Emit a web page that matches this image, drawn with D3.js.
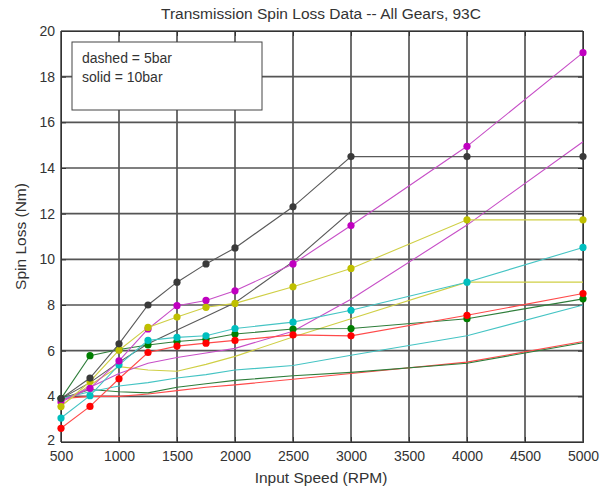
<!DOCTYPE html>
<html><head><meta charset="utf-8">
<script src="https://cdn.jsdelivr.net/npm/d3@7"></script>
<style>
html,body{margin:0;padding:0;background:#fff;}
svg text{font-family:"Liberation Sans",Arial,sans-serif;fill:#333;}
</style></head>
<body><svg id="chart" width="607" height="489"></svg>
<script>
const rpm = [500,750,1000,1250,1500,1750,2000,2500,3000,4000,5000];
const xTicks = [500,1000,1500,2000,2500,3000,3500,4000,4500,5000];
const yTicks = [2,4,6,8,10,12,14,16,18,20];

// 10 bar (solid, with markers)
const gray10    = [3.9,4.8,6.3,8.0,9.0,9.8,10.5,12.3,14.5,14.5,14.5];
const magenta10 = [3.75,4.35,5.55,6.95,7.97,8.2,8.62,9.8,11.48,14.95,19.05];
const yellow10  = [3.55,4.65,6.02,7.02,7.47,7.9,8.07,8.8,9.6,11.73,11.73];
const cyan10    = [3.05,4.03,5.38,6.45,6.58,6.65,6.97,7.25,7.77,9.0,10.52];
const green10   = [3.9,5.78,6.05,6.25,6.4,6.5,6.73,6.95,6.97,7.4,8.27];
const red10     = [2.6,3.56,4.77,5.92,6.2,6.33,6.45,6.69,6.65,7.55,8.5];

// 5 bar (dashed, no markers)
const gray5    = [3.9,4.6,5.5,6.3,6.9,7.5,8.1,9.9,12.1,12.1,12.1];
const magenta5 = [3.8,4.4,5.0,5.45,5.7,5.9,6.1,6.85,8.25,11.5,15.15];
const yellow5  = [3.6,4.5,5.3,5.15,5.1,5.4,5.75,6.6,7.4,9.0,9.0];
const cyan5    = [3.9,4.2,4.45,4.6,4.8,4.95,5.15,5.35,5.8,6.65,8.0];
const green5   = [3.9,4.3,4.2,4.15,4.4,4.55,4.7,4.9,5.05,5.45,6.35];
const red5     = [3.9,4.0,4.0,4.1,4.25,4.4,4.5,4.75,5.0,5.5,6.4];

const colors = {
  gray:   {line:"#5a5a5a", mark:"#3a3a3a"},
  magenta:{line:"#c74fc7", mark:"#c000c0"},
  yellow: {line:"#cfcf45", mark:"#bfbf00"},
  cyan:   {line:"#45c4c4", mark:"#00bfbf"},
  green:  {line:"#2e7d3a", mark:"#007f00"},
  red:    {line:"#ff4a4a", mark:"#ff0000"}
};

const dashedSeries = [
  {c:"red",v:red5},{c:"green",v:green5},{c:"cyan",v:cyan5},
  {c:"yellow",v:yellow5},{c:"magenta",v:magenta5},{c:"gray",v:gray5}
];
const solidSeries = [
  {c:"green",v:green10},{c:"red",v:red10},{c:"cyan",v:cyan10},
  {c:"magenta",v:magenta10},{c:"yellow",v:yellow10},{c:"gray",v:gray10}
];

const svg = d3.select("#chart");
const L=61, R=583, T=31, B=442;
const x = d3.scaleLinear().domain([500,5000]).range([L,R]);
const y = d3.scaleLinear().domain([2,20]).range([B,T]);

// grid
const g = svg.append("g");
g.selectAll(".vg").data(xTicks).enter().append("line")
  .attr("x1",d=>x(d)).attr("x2",d=>x(d)).attr("y1",T).attr("y2",B)
  .attr("stroke","#555").attr("stroke-width",1.7);
g.selectAll(".hg").data(yTicks).enter().append("line")
  .attr("y1",d=>y(d)).attr("y2",d=>y(d)).attr("x1",L).attr("x2",R)
  .attr("stroke","#555").attr("stroke-width",1.7);

// axes (ticks inside)
svg.append("g").attr("transform",`translate(0,${B})`)
  .call(d3.axisBottom(x).tickValues(xTicks).tickSize(-5).tickPadding(9).tickFormat(d3.format("d")))
  .call(a=>{a.select(".domain").attr("stroke","#333");a.selectAll("line").attr("stroke","#333");
    a.selectAll("text").style("font-size","14px").attr("fill","#333");});
svg.append("g").attr("transform",`translate(${L},0)`)
  .call(d3.axisLeft(y).tickValues(yTicks).tickSize(-5).tickPadding(6))
  .call(a=>{a.select(".domain").attr("stroke","#333");a.selectAll("line").attr("stroke","#333");
    a.selectAll("text").style("font-size","14px").attr("fill","#333");
    a.selectAll(".tick").filter(d=>d===2).select("text").attr("dy","0.15em");});
svg.append("g").attr("transform",`translate(0,${T})`)
  .call(d3.axisTop(x).tickValues(xTicks).tickSize(-5).tickFormat(""))
  .call(a=>{a.select(".domain").attr("stroke","#333");a.selectAll("line").attr("stroke","#333");});
svg.append("g").attr("transform",`translate(${R},0)`)
  .call(d3.axisRight(y).tickValues(yTicks).tickSize(-5).tickFormat(""))
  .call(a=>{a.select(".domain").attr("stroke","#333");a.selectAll("line").attr("stroke","#333");});

const line = d3.line().x((d,i)=>x(rpm[i])).y(d=>y(d));

// dashed (5 bar)
svg.append("g").selectAll("path").data(dashedSeries).enter().append("path")
  .attr("d",d=>line(d.v)).attr("fill","none")
  .attr("stroke",d=>colors[d.c].line).attr("stroke-width",1.1);

// solid (10 bar) with markers
solidSeries.forEach(s=>{
  const gg = svg.append("g");
  gg.append("path").attr("d",line(s.v)).attr("fill","none")
    .attr("stroke",colors[s.c].line).attr("stroke-width",1.1);
  gg.selectAll("circle").data(s.v).enter().append("circle")
    .attr("cx",(d,i)=>x(rpm[i])).attr("cy",d=>y(d)).attr("r",3.6)
    .attr("fill",colors[s.c].mark);
});

// legend
svg.append("rect").attr("x",72).attr("y",42).attr("width",190).attr("height",68)
  .attr("fill","#fff").attr("stroke","#444").attr("stroke-width",1);
svg.append("text").attr("x",82).attr("y",63).style("font-size","14px").text("dashed = 5bar");
svg.append("text").attr("x",82).attr("y",82).style("font-size","14px").text("solid = 10bar");

// titles
svg.append("text").attr("x",321).attr("y",19).attr("text-anchor","middle")
  .style("font-size","15.5px").text("Transmission Spin Loss Data -- All Gears, 93C");
svg.append("text").attr("x",321).attr("y",483).attr("text-anchor","middle")
  .style("font-size","15.5px").text("Input Speed (RPM)");
svg.append("text").attr("transform",`translate(26,${(T+B)/2}) rotate(-90)`).attr("text-anchor","middle")
  .style("font-size","15.5px").text("Spin Loss (Nm)");
</script></body></html>
